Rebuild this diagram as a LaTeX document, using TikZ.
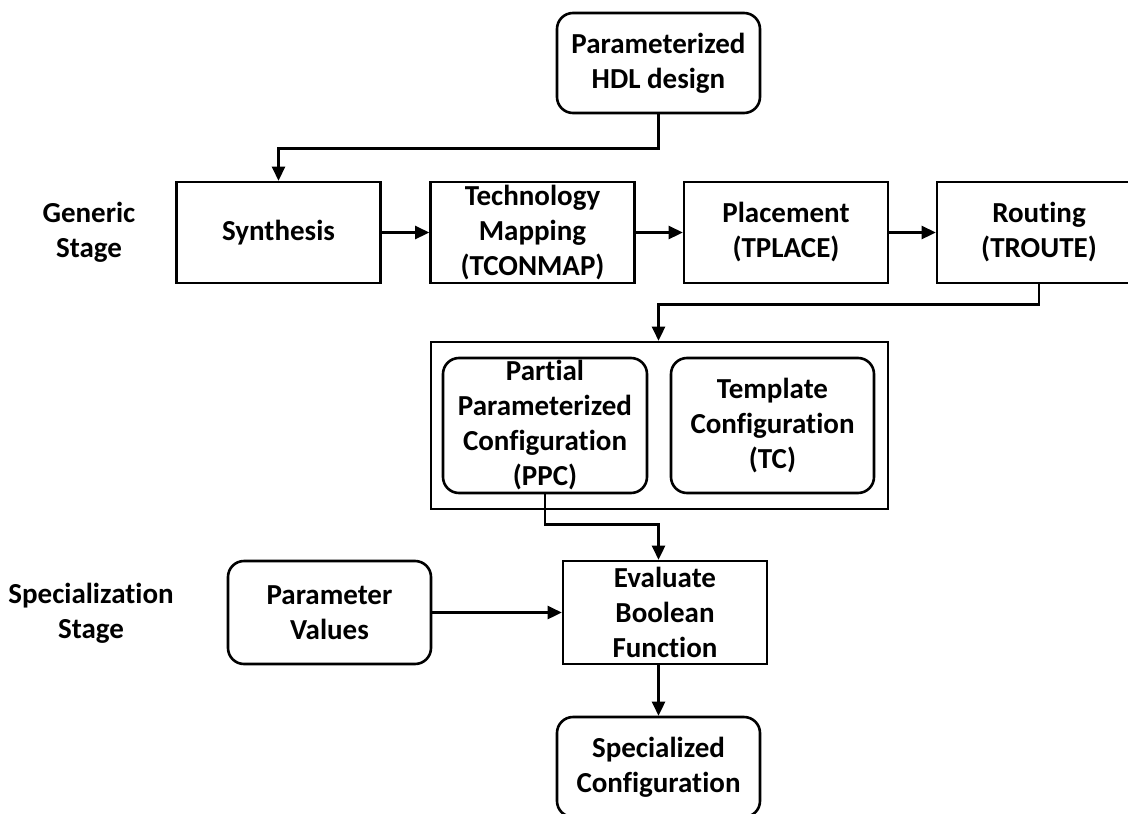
\documentclass[tikz,border=0pt]{standalone}
\usepackage{fontspec}
\setmainfont{Carlito}[RawFeature={-liga;-clig;-calt;-dlig}]
\usetikzlibrary{arrows.meta}
\begin{document}
\begin{tikzpicture}[x=1pt,y=-1pt,
  base/.style={draw=black, line width=2.6pt, align=center, inner sep=0pt,
    font=\fontsize{29}{35}\selectfont\bfseries},
  stepbox/.style={base, minimum width=204pt, minimum height=101pt},
  roundbox/.style={base, rounded corners=16pt},
  label/.style={align=center, inner sep=0pt, font=\fontsize{29}{35}\selectfont\bfseries},
  arr/.style={line width=2.6pt, -{Triangle[length=14pt,width=13pt]}}]
\useasboundingbox (0,0) rectangle (1128,814);
\begin{scope}
\clip (0,0) rectangle (1128,814);

% source design
\node[roundbox, minimum width=203pt, minimum height=100pt] (hdl) at (658.5,63) {Parameterized\\HDL design};

% generic stage: tool flow
\node[stepbox] (syn) at (278.5,232.5) {Synthesis};
\node[stepbox] (tech) at (532.5,232.5) {Technology\\Mapping\\(TCONMAP)};
\node[stepbox] (place) at (786,232.5) {Placement\\(TPLACE)};
\node[stepbox] (route) at (1039,232.5) {Routing\\(TROUTE)};

% generated configuration
\node[base, minimum width=457pt, minimum height=167pt] (cont) at (659.5,425.5) {};
\node[roundbox, minimum width=204pt, minimum height=135pt] (ppc) at (545,425.5) {Partial\\Parameterized\\Configuration\\(PPC)};
\node[roundbox, minimum width=203pt, minimum height=135pt] (tc) at (772.5,425.5) {Template\\Configuration\\(TC)};

% specialization stage
\node[roundbox, minimum width=203pt, minimum height=103pt] (pv) at (329.5,612.5) {Parameter\\Values};
\node[stepbox, minimum height=103pt] (eval) at (665,612.5) {Evaluate\\Boolean\\Function};
\node[roundbox, minimum width=203pt, minimum height=100pt] (spec) at (658.5,767) {Specialized\\Configuration};

% stage labels
\node[label] (lgen) at (89,232) {Generic\\Stage};
\node[label] (lspec) at (91,613) {Specialization\\Stage};

% connectors
\draw[arr] (hdl.south) -- ++(0,34) -| (syn.north);
\draw[arr] (syn) -- (tech);
\draw[arr] (tech) -- (place);
\draw[arr] (place) -- (route);
\draw[arr] (route.south) -- ++(0,20) -| (hdl.south |- cont.north);
\draw[arr] (ppc.south) -- ++(0,30) -| (spec.north |- eval.north);
\draw[arr] (pv) -- (eval);
\draw[arr] (spec.north |- eval.south) -- (spec.north);
\end{scope}
\end{tikzpicture}
\end{document}
